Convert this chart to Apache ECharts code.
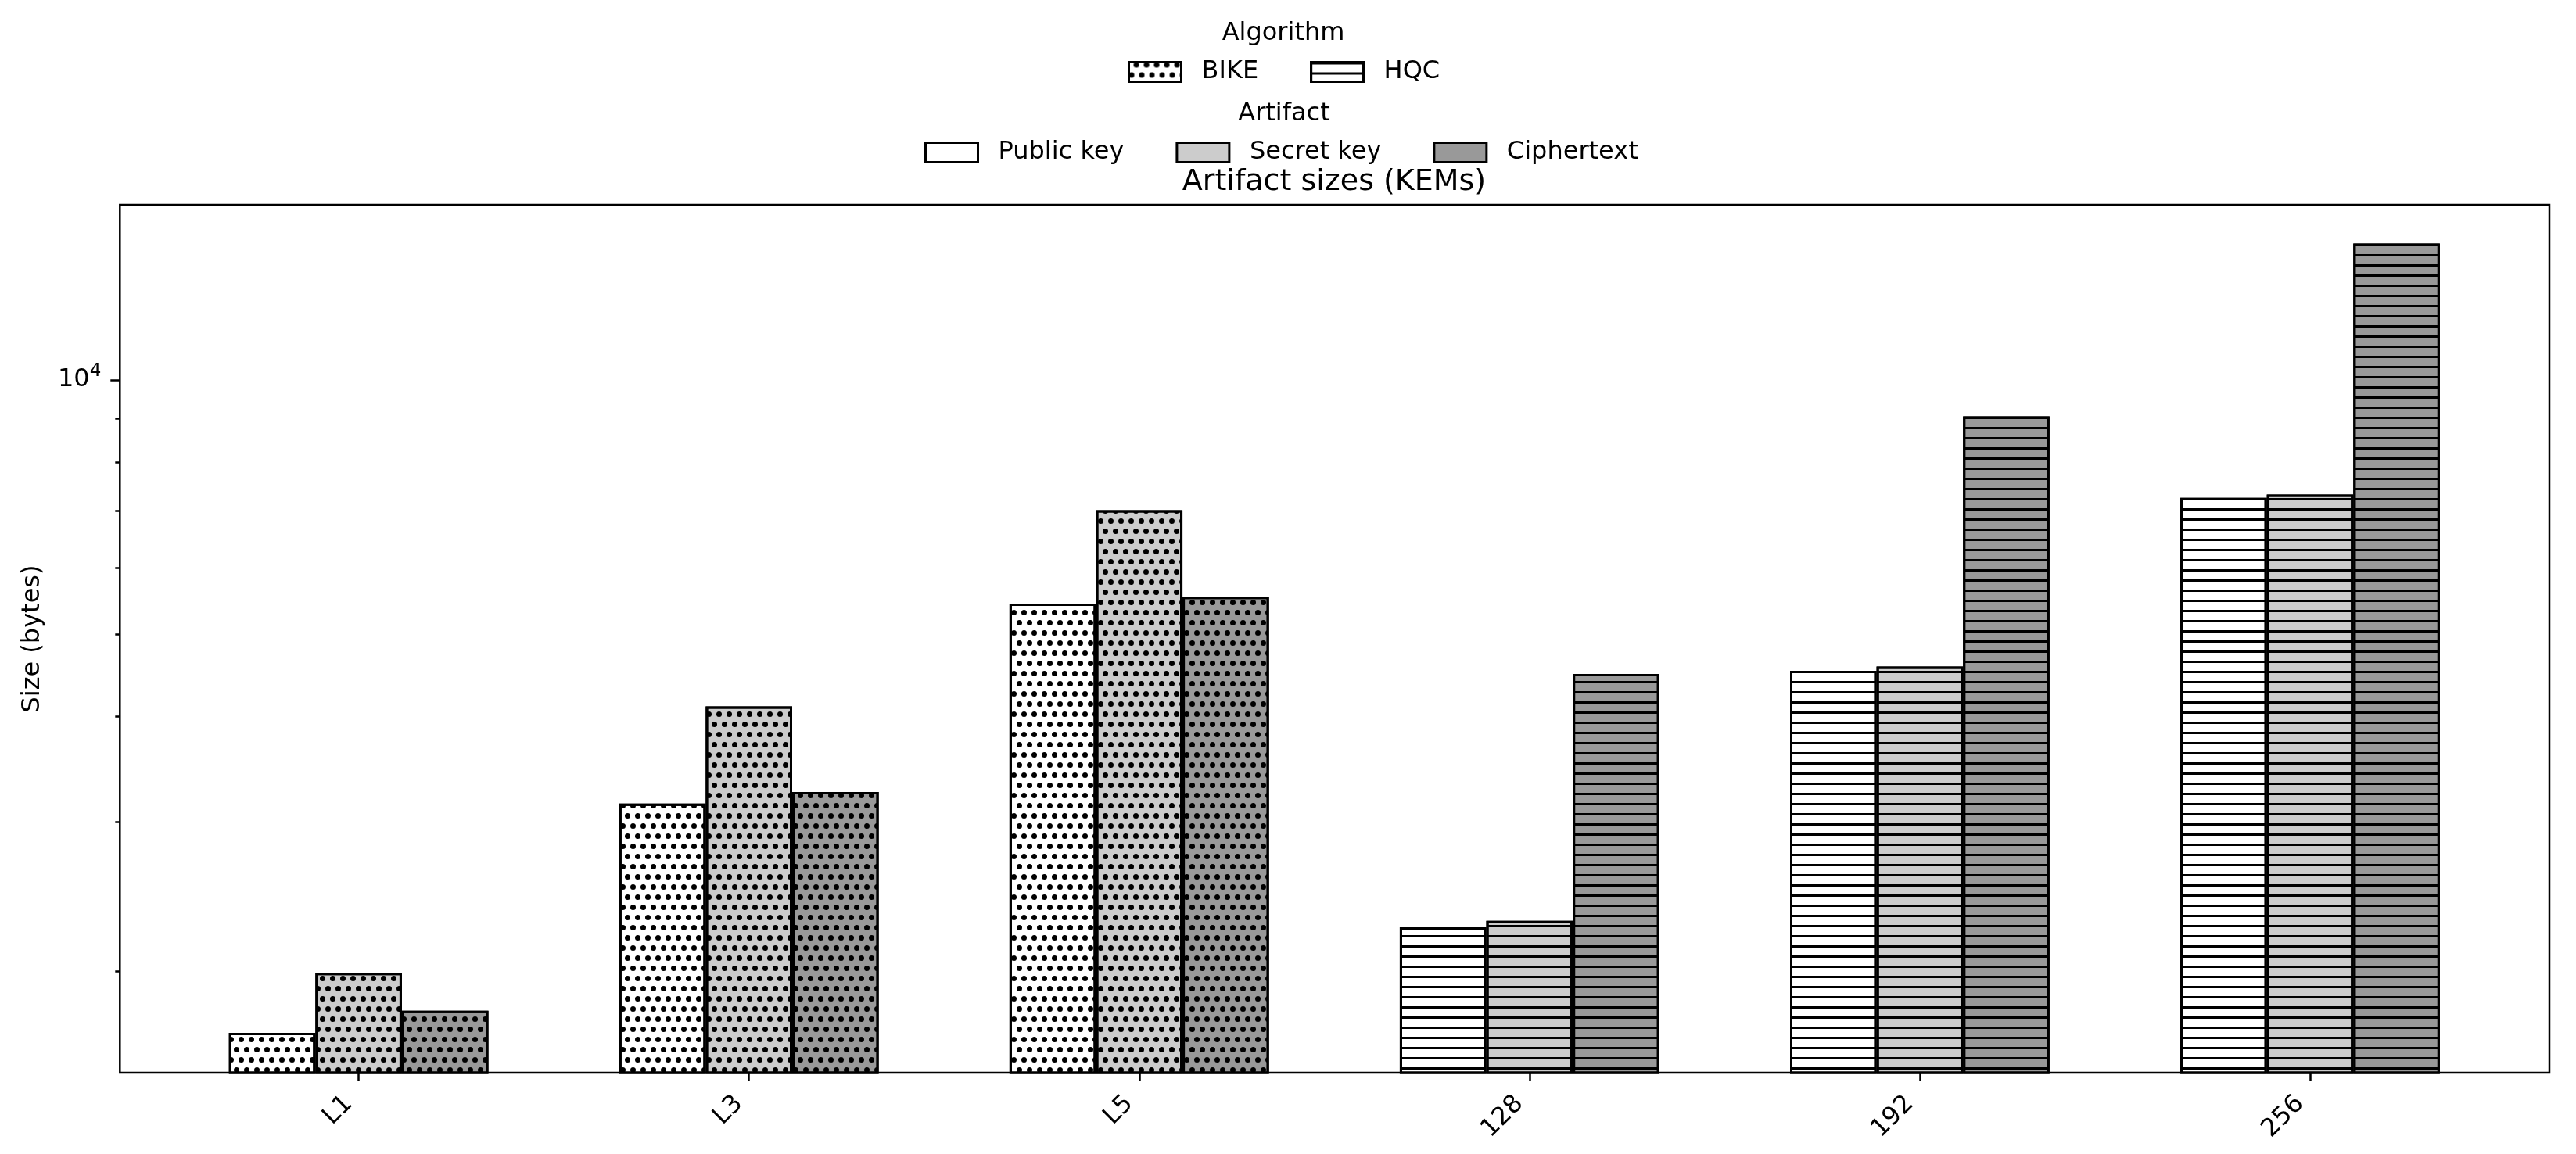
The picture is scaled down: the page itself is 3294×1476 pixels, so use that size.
<!DOCTYPE html>
<html>
<head>
<meta charset="utf-8">
<script src="https://cdn.jsdelivr.net/npm/echarts@6/dist/echarts.min.js"></script>
<style>
  html, body { margin: 0; padding: 0; background: #fff; }
  #chart { width: 3294px; height: 1476px; }
</style>
</head>
<body>
<div id="chart"></div>
<script>
// ---- data ----
const categories = ['L1', 'L3', 'L5', '128', '192', '256'];
const algorithmOf = ['BIKE', 'BIKE', 'BIKE', 'HQC', 'HQC', 'HQC'];
const algorithms = ['BIKE', 'HQC'];
const artifacts = ['Public key', 'Secret key', 'Ciphertext'];
const publicKey  = [1690, 3155, 5440, 2253, 4529, 7253];
const secretKey  = [1990, 4110, 7015, 2292, 4582, 7318];
const ciphertext = [1795, 3255, 5540, 4490, 9056, 14500];
const yRange = [1516, 16110];          // visible extent of the log axis
const yMajorTicks = [10000];
const yMinorTicks = [2000, 3000, 4000, 5000, 6000, 7000, 8000, 9000];

// ---- styles ----
const FONT = 'DejaVu Sans';
const artifactColors = ['#ffffff', '#cccccc', '#999999'];
const dotDecal = {
  symbol: 'circle', symbolSize: 1, color: '#000000', rotation: 0,
  dashArrayX: [[7, 6], [0, 6, 7, 0]], dashArrayY: [7, 6]
};
const lineDecal = {
  symbol: 'rect', symbolSize: 1, color: '#000000', rotation: 0,
  dashArrayX: [1, 0], dashArrayY: [3, 10]
};
const decalFor = { BIKE: dotDecal, HQC: lineDecal };

const logMin = Math.log10(yRange[0]);
const logMax = Math.log10(yRange[1]);

const gridTop = 262, gridBottom = 104;

function artifactSeries(name, values, idx) {
  return {
    name: name,
    type: 'bar',
    xAxisIndex: 0,
    yAxisIndex: 0,
    barWidth: 110.6,
    barGap: '0%',
    clip: true,
    itemStyle: { color: artifactColors[idx], borderColor: '#000', borderWidth: 3 },
    data: values.map((v, i) => ({
      value: v,
      itemStyle: { decal: decalFor[algorithmOf[i]] }
    }))
  };
}

const option = {
  animation: false,
  backgroundColor: '#ffffff',
  textStyle: { fontFamily: FONT },
  title: [
    { text: 'Algorithm', left: 1641, top: 27, textAlign: 'center', padding: 0,
      textStyle: { fontFamily: FONT, fontSize: 32, fontWeight: 'normal', color: '#000', lineHeight: 32 } },
    { text: 'Artifact', left: 1642, top: 130, textAlign: 'center', padding: 0,
      textStyle: { fontFamily: FONT, fontSize: 32, fontWeight: 'normal', color: '#000', lineHeight: 32 } },
    { text: 'Artifact sizes (KEMs)', left: 1706, top: 214, textAlign: 'center', padding: 0,
      textStyle: { fontFamily: FONT, fontSize: 38, fontWeight: 'normal', color: '#000', lineHeight: 38 } }
  ],
  legend: [
    { data: algorithms, left: 1442, top: 76, padding: 0, orient: 'horizontal',
      itemWidth: 67, itemHeight: 25, itemGap: 66, icon: 'rect',
      itemStyle: { borderColor: '#000', borderWidth: 3 },
      textStyle: { fontFamily: FONT, fontSize: 32, color: '#000', padding: [0, 0, 0, 21] } },
    { data: artifacts, left: 1182, top: 179, padding: 0, orient: 'horizontal',
      itemWidth: 67, itemHeight: 25, itemGap: 66, icon: 'rect',
      itemStyle: { borderColor: '#000', borderWidth: 3 },
      textStyle: { fontFamily: FONT, fontSize: 32, color: '#000', padding: [0, 0, 0, 21] } }
  ],
  grid: [
    { left: 209.1, right: 90.5, top: gridTop, bottom: gridBottom, containLabel: false },
    { left: 153.3, right: 34, top: gridTop, bottom: gridBottom, containLabel: false,
      show: true, borderColor: '#000', borderWidth: 2.5, backgroundColor: 'transparent' }
  ],
  xAxis: [
    { type: 'category', gridIndex: 0, data: categories,
      axisLine: { show: false },
      axisTick: { show: true, alignWithLabel: true, length: 11, interval: 0,
        lineStyle: { color: '#000', width: 2.5 } },
      axisLabel: { show: true, interval: 0, rotate: 45, margin: 22, padding: [0, 18, 0, 0],
        fontFamily: FONT, fontSize: 32, color: '#000' },
      splitLine: { show: false } },
    { type: 'value', gridIndex: 1, min: 0, max: 1, show: false }
  ],
  yAxis: [
    { type: 'log', logBase: 10, gridIndex: 0, min: yRange[0], max: yRange[1], show: false,
      splitLine: { show: false } },
    { type: 'value', gridIndex: 1, min: logMin, max: logMax, position: 'left',
      name: 'Size (bytes)', nameLocation: 'middle', nameGap: 96, nameRotate: 90,
      nameTextStyle: { fontFamily: FONT, fontSize: 32, color: '#000' },
      axisLine: { show: false },
      axisTick: { show: true, customValues: yMajorTicks.map(v => Math.log10(v)), length: 12,
        lineStyle: { color: '#000', width: 2.5 } },
      axisLabel: { show: true, customValues: yMajorTicks.map(v => Math.log10(v)), margin: 24,
        formatter: function (val) {
          const p = Math.round(val);
          return '{b|10}{s|' + p + '}';
        },
        rich: {
          b: { fontFamily: FONT, fontSize: 32, color: '#000' },
          s: { fontFamily: FONT, fontSize: 23, color: '#000', padding: [0, 0, 22, 0] }
        } },
      splitLine: { show: false } },
    { type: 'value', gridIndex: 1, min: logMin, max: logMax, position: 'left',
      axisLine: { show: false },
      axisTick: { show: true, customValues: yMinorTicks.map(v => Math.log10(v)), length: 6,
        lineStyle: { color: '#000', width: 2.5 } },
      axisLabel: { show: false },
      splitLine: { show: false } }
  ],
  series: [
    artifactSeries(artifacts[0], publicKey, 0),
    artifactSeries(artifacts[1], secretKey, 1),
    artifactSeries(artifacts[2], ciphertext, 2),
    // legend-only entries for the algorithm hatches
    { name: algorithms[0], type: 'bar', xAxisIndex: 1, yAxisIndex: 1, data: [],
      itemStyle: { color: '#ffffff', borderColor: '#000', borderWidth: 3, decal: dotDecal } },
    { name: algorithms[1], type: 'bar', xAxisIndex: 1, yAxisIndex: 1, data: [],
      itemStyle: { color: '#ffffff', borderColor: '#000', borderWidth: 3, decal: lineDecal } }
  ]
};

const chart = echarts.init(document.getElementById('chart'), null, { renderer: 'canvas' });
chart.setOption(option);
</script>
</body>
</html>
